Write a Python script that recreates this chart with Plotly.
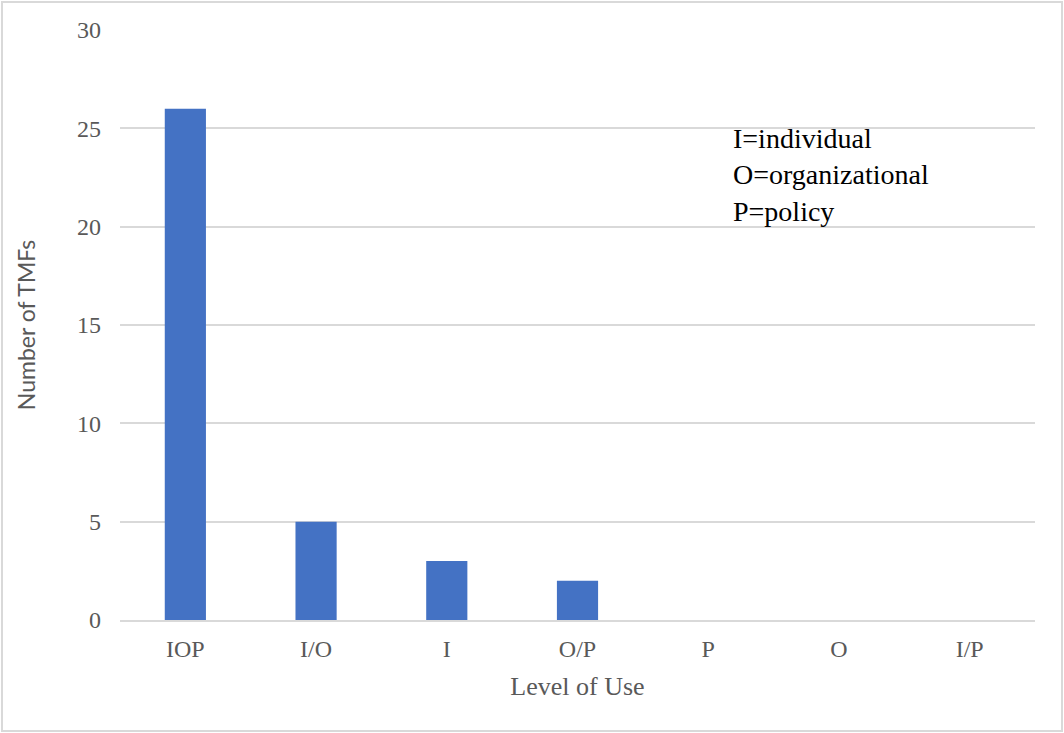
import plotly.graph_objects as go

# Levels of use and number of TMFs at each level
levels = ["IOP", "I/O", "I", "O/P", "P", "O", "I/P"]
tmf_counts = [26, 5, 3, 2, 0, 0, 0]
y_ticks = [0, 5, 10, 15, 20, 25, 30]

key_lines = ["I=individual", "O=organizational", "P=policy"]

W, H = 1064, 733
M = dict(l=120, r=29, t=30, b=113)
PW, PH = W - M["l"] - M["r"], H - M["t"] - M["b"]

fig = go.Figure(
    go.Bar(
        x=levels,
        y=tmf_counts,
        marker=dict(color="#4472C4", line=dict(width=0)),
        width=0.315,
    )
)

serif = "Liberation Serif"
grey = "#595959"

fig.update_layout(
    width=W,
    height=H,
    margin=M,
    paper_bgcolor="white",
    plot_bgcolor="white",
    showlegend=False,
    font=dict(family=serif, size=24, color=grey),
    xaxis=dict(
        title=dict(text="Level of Use", font=dict(family=serif, size=26, color=grey), standoff=16),
        showgrid=False,
        showline=True,
        linecolor="#D9D9D9",
        linewidth=2,
        ticks="",
        ticklabelstandoff=6,
        tickfont=dict(family=serif, size=24, color=grey),
        range=[-0.5, 6.5],
    ),
    yaxis=dict(
        title=dict(text="Number of TMFs", font=dict(family="Lato", size=23, color=grey), standoff=34),
        range=[0, 30],
        tickvals=y_ticks,
        showgrid=True,
        gridcolor="#D9D9D9",
        gridwidth=2,
        zeroline=False,
        showline=False,
        ticks="",
        ticklabelstandoff=18,
        tickfont=dict(family=serif, size=24, color=grey),
    ),
    annotations=[
        dict(
            text="<br>".join(key_lines),
            xref="paper",
            yref="paper",
            x=(731 - M["l"]) / PW,
            y=(H - M["b"] - 121) / PH,
            xanchor="left",
            yanchor="top",
            align="left",
            showarrow=False,
            font=dict(family=serif, size=28, color="black"),
        )
    ],
    shapes=[
        dict(
            type="rect",
            xref="paper",
            yref="paper",
            x0=-(M["l"] - 2) / PW,
            x1=1 + (M["r"] - 2) / PW,
            y0=-(M["b"] - 2) / PH,
            y1=1 + (M["t"] - 2) / PH,
            line=dict(color="#D9D9D9", width=2),
            layer="below",
        )
    ],
)

fig.write_html("out.html")
